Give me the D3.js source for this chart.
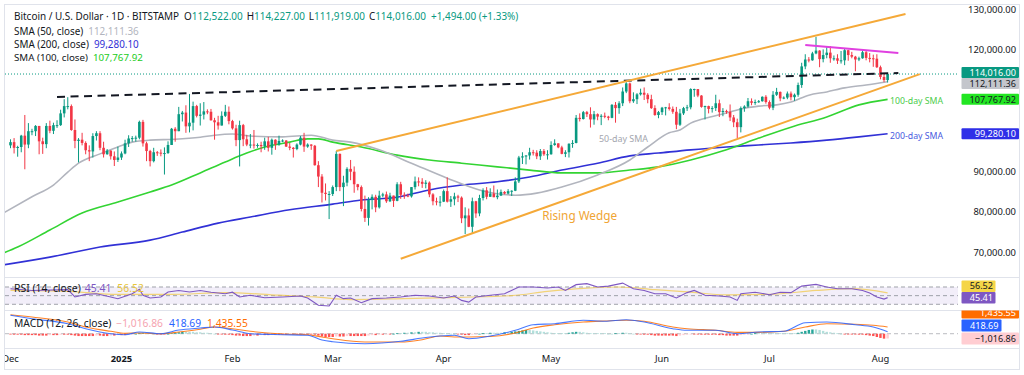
<!DOCTYPE html>
<html><head><meta charset="utf-8">
<script src="https://cdn.jsdelivr.net/npm/d3@7"></script>
<style>
html,body{margin:0;padding:0;background:#fff;overflow:hidden;}
svg{display:block;}
</style></head><body>
<svg id="chart" width="1024" height="375"></svg>
<script>
// ---------------- DATA (prices in thousands of USD, one candle per day from 2024-12-01) ----------------
const startDay = "2024-12-01";
const open = [
96.4,97.2,95.8,96.0,98.8,96.6,99.9,99.9,101.2,97.4,96.7,101.2,100.0,101.4,101.4,104.3,106.1,106.1,100.2,97.5,97.8,97.0,95.2,94.9,98.7,99.4,95.8,94.2,95.1,93.7,92.8,
93.4,94.4,96.9,98.1,98.2,98.3,102.2,96.9,95.0,92.5,94.7,94.6,94.5,94.5,96.5,100.5,99.9,104.1,104.5,101.1,102.0,106.1,103.7,104.0,104.8,104.7,102.6,102.1,101.3,103.7,104.7,
102.4,100.6,97.7,101.4,97.9,96.6,96.6,96.5,96.5,96.2,97.4,95.8,97.8,96.6,97.5,97.6,96.1,95.8,95.5,96.6,98.3,96.1,96.6,96.3,91.5,88.7,84.7,84.4,
84.4,86.1,94.3,86.1,87.2,90.6,89.9,86.8,86.1,80.7,78.5,82.9,83.7,81.1,84.0,84.3,82.6,84.0,82.7,86.8,84.2,84.0,83.8,86.1,87.5,87.4,86.9,87.2,84.3,82.6,82.4,
82.5,85.1,82.5,83.1,83.8,83.5,78.4,79.1,76.3,82.6,79.6,83.4,85.3,83.7,84.5,83.6,84.0,84.9,84.5,85.1,85.2,87.5,93.4,93.7,93.9,94.7,94.6,93.7,95.0,94.2,
94.2,96.5,96.9,95.9,94.3,94.7,96.8,97.0,103.2,102.9,104.6,104.1,102.8,104.1,103.5,103.7,103.5,103.2,106.4,105.6,106.8,109.7,111.7,107.3,107.8,109.0,109.4,108.9,107.8,105.6,103.9,
104.6,105.7,105.8,105.4,104.7,101.5,104.3,105.6,105.8,110.3,110.3,108.7,105.9,106.1,105.4,105.6,106.8,104.6,104.9,104.7,103.3,102.1,100.9,105.6,106.0,107.3,106.9,107.1,107.3,108.4,
107.1,105.7,108.9,109.6,108.0,108.2,109.2,108.3,108.9,111.3,115.9,117.6,117.4,119.1,119.8,117.7,118.7,119.3,117.9,117.9,117.3,117.4,119.9,118.7,118.3,117.6,117.9,119.4,118.0,117.9,117.8,
115.7,113.3,112.522];
const high = [
97.9,98.2,96.3,99.0,103.9,101.9,100.5,101.4,101.2,98.3,101.9,102.5,102.0,102.6,105.2,107.8,108.3,106.5,102.8,98.2,99.5,97.4,96.4,99.4,99.9,99.9,97.3,95.5,95.2,94.9,96.1,
94.9,97.8,98.9,98.7,98.8,102.5,102.7,97.3,95.3,95.8,95.0,95.4,95.9,97.4,100.7,100.9,105.9,104.9,106.3,109.1,107.2,106.4,106.8,107.1,105.3,105.4,103.2,103.7,104.8,106.4,106.0,
102.7,101.5,102.5,101.7,99.0,99.2,100.2,96.9,97.3,98.3,98.5,98.1,97.9,98.8,97.9,97.7,97.0,96.0,96.9,98.7,99.5,96.9,96.7,96.5,92.5,89.3,87.0,85.1,
86.5,95.0,94.4,88.9,91.0,92.8,91.2,86.9,86.5,84.0,83.6,84.3,84.2,85.2,84.7,85.0,84.7,84.0,87.3,87.4,84.8,84.5,86.1,88.7,88.5,88.3,87.8,87.5,84.6,83.5,83.9,
85.5,88.5,83.9,84.7,84.2,83.8,81.1,80.8,83.5,82.7,84.2,85.8,86.1,85.8,86.5,85.5,85.5,85.1,85.6,85.3,88.5,93.8,94.7,94.0,95.8,95.3,95.2,95.5,95.5,95.2,
97.4,97.9,96.9,96.3,95.2,96.9,97.7,103.9,104.3,104.9,104.9,105.8,104.9,104.3,104.1,104.5,103.7,106.6,107.1,107.3,110.7,112.0,111.9,109.5,109.3,110.4,110.7,109.3,108.9,106.3,104.9,
105.9,105.9,106.8,106.0,105.9,105.4,105.9,106.4,110.5,110.4,110.3,108.8,106.2,106.2,106.1,108.9,107.7,105.6,105.2,106.5,103.9,103.0,106.0,106.3,108.1,108.0,107.7,107.6,108.5,108.8,
107.5,109.8,110.6,109.7,108.5,109.7,109.7,109.2,111.9,116.8,118.9,118.2,119.5,123.2,119.9,120.1,120.9,120.9,118.6,118.9,119.7,120.2,120.0,119.5,118.5,118.3,119.8,119.8,119.2,118.8,118.9,
116.1,114.0,114.227];
const low = [
95.7,94.4,93.6,94.7,90.5,95.7,98.9,98.7,94.2,94.3,95.7,99.4,99.2,100.7,101.2,103.3,105.3,100.0,95.7,92.2,96.4,94.2,92.5,93.4,97.6,95.2,93.4,94.1,92.9,91.3,92.3,
92.8,94.2,96.0,97.3,97.3,97.9,96.1,92.5,91.2,92.2,93.8,93.7,89.2,94.3,96.5,97.3,99.9,102.3,99.5,99.6,100.1,103.3,101.3,102.8,104.1,102.5,97.8,100.3,101.3,103.4,101.6,
100.3,96.2,91.2,96.2,96.2,95.7,95.6,95.8,94.7,95.3,94.9,94.1,95.3,96.3,97.2,96.0,95.2,93.4,95.2,96.4,94.8,95.8,95.3,91.4,86.1,82.3,82.8,78.2,
83.9,85.1,85.1,81.4,86.3,87.8,84.7,85.3,80.1,77.5,76.6,80.6,79.9,80.8,83.6,82.2,82.4,81.2,82.6,83.2,83.2,83.6,83.5,85.5,86.3,85.9,85.8,83.6,81.6,81.6,81.3,
82.4,82.3,81.2,81.6,82.4,77.2,74.5,76.2,74.6,78.5,78.9,82.8,83.1,83.7,83.6,83.1,83.9,84.3,84.3,83.9,85.1,87.1,91.8,91.7,92.9,93.9,93.0,92.8,93.8,92.9,
94.1,96.3,95.7,94.2,93.5,93.4,95.8,96.9,102.3,102.8,103.4,100.8,101.5,102.6,101.4,103.1,102.6,103.1,102.0,104.2,106.1,109.3,106.8,106.9,106.6,108.7,107.6,106.8,105.4,103.7,103.1,
103.9,103.8,105.0,104.2,100.4,101.2,103.9,104.9,105.3,108.4,108.3,105.7,102.8,104.3,104.5,104.9,103.4,103.6,104.2,102.4,100.9,98.2,99.6,104.7,105.7,106.3,106.4,106.9,107.2,106.7,
105.3,105.1,108.6,107.3,107.8,107.8,107.5,107.4,108.4,110.6,115.2,116.9,117.3,118.9,115.7,116.9,117.9,116.8,117.3,116.5,116.6,116.2,117.3,117.9,114.7,117.2,117.8,117.4,116.9,115.8,115.5,
112.7,112.0,111.919];
const close = [
97.2,95.8,96.0,98.8,96.6,99.9,99.9,101.2,97.4,96.7,101.2,100.0,101.4,101.4,104.3,106.1,106.1,100.2,97.5,97.8,97.0,95.2,94.9,98.7,99.4,95.8,94.2,95.1,93.7,92.8,93.4,
94.4,96.9,98.1,98.2,98.3,102.2,96.9,95.0,92.5,94.7,94.6,94.5,94.5,96.5,100.5,99.9,104.1,104.5,101.1,102.0,106.1,103.7,104.0,104.8,104.7,102.6,102.1,101.3,103.7,104.7,102.4,
100.6,97.7,101.4,97.9,96.6,96.6,96.5,96.5,96.2,97.4,95.8,97.8,96.6,97.5,97.6,96.1,95.8,95.5,96.6,98.3,96.1,96.6,96.3,91.5,88.7,84.7,84.4,84.4,
86.1,94.3,86.1,87.2,90.6,89.9,86.8,86.1,80.7,78.5,82.9,83.7,81.1,84.0,84.3,82.6,84.0,82.7,86.8,84.2,84.0,83.8,86.1,87.5,87.4,86.9,87.2,84.3,82.6,82.4,82.5,
85.1,82.5,83.1,83.8,83.5,78.4,79.1,76.3,82.6,79.6,83.4,85.3,83.7,84.5,83.6,84.0,84.9,84.5,85.1,85.2,87.5,93.4,93.7,93.9,94.7,94.6,93.7,95.0,94.2,94.2,
96.5,96.9,95.9,94.3,94.7,96.8,97.0,103.2,102.9,104.6,104.1,102.8,104.1,103.5,103.7,103.5,103.2,106.4,105.6,106.8,109.7,111.7,107.3,107.8,109.0,109.4,108.9,107.8,105.6,103.9,104.6,
105.7,105.8,105.4,104.7,101.5,104.3,105.6,105.8,110.3,110.3,108.7,105.9,106.1,105.4,105.6,106.8,104.6,104.9,104.7,103.3,102.1,100.9,105.6,106.0,107.3,106.9,107.1,107.3,108.4,107.1,
105.7,108.9,109.6,108.0,108.2,109.2,108.3,108.9,111.3,115.9,117.6,117.4,119.1,119.8,117.7,118.7,119.3,117.9,117.9,117.3,117.4,119.9,118.7,118.3,117.6,117.9,119.4,118.0,117.9,117.8,115.7,
113.3,112.522,114.016];

// Moving averages (day = days since 2024-12-01, value in thousands)
const sma50Day = [-2,6,12,16,19,25,30,34,39,46,53,57,62,67,76,84,90,95,103,112,122,131,141,147,154,164,173,178,184,187,190,194,200,204,209,214,218,223,228,233,239,245];
const sma50Val = [79.7,83.7,86.6,89.8,92.0,94.3,96.0,97.2,97.7,97.9,98.4,98.9,99.2,98.7,98.5,98.9,97.7,97.2,95.3,92.0,88.3,85.4,84.1,84.6,86.1,89.1,92.8,96.0,99.5,100.2,101.9,103.1,104.4,105.4,106.1,106.4,107.1,108.8,109.6,110.6,111.3,112.11136];
const sma100Day = [-2,2,11,20,30,39,45,53,60,66,71,78,83,86,90,98,108,117,126,136,145,154,164,173,181,190,200,209,218,228,237,245];
const sma100Val = [69.8,71.3,75.5,79.7,82.4,84.9,86.6,89.6,92.3,94.5,96.0,97.2,98.0,98.0,97.2,96.0,94.0,92.8,92.0,91.1,90.3,89.6,89.6,90.3,91.1,92.8,95.3,98.2,100.9,103.4,106.4,107.76792];
const sma200Day = [-2,11,25,39,48,58,67,78,90,98,108,117,126,136,145,154,164,173,181,190,200,209,218,228,237,245];
const sma200Val = [66.9,68.8,71.3,73.0,75.0,77.2,78.7,80.5,81.9,82.9,83.6,85.4,86.6,87.4,88.6,90.3,92.0,93.8,94.5,95.3,96.0,96.5,97.0,97.7,98.5,99.2801];

// RSI (14) and its moving average
const rsiDay = [0,6,16,18,21,24,28,30,34,36,37,39,42,44,47,50,53,56,60,62,64,67,71,76,81,83,86,89,91,93,95,98,101,105,109,113,117,121,124,126,128,130,134,138,142,146,150,153,155,158,161,164,167,171,174,177,180,183,186,189,191,194,198,201,203,204,208,212,215,218,221,225,228,231,235,238,240,242,244,245];
const rsiVal = [66,62,64,47,53,54.5,47,43,54.5,64.6,51,44.6,47,58.4,62,58.4,62,58,54.5,58,47,51,45,47,49,44.6,27.7,26,51,43,44.6,33.7,43,44.6,47,51,49,44.6,49,39,35,47,51,54.5,70,70,67.7,70,62,75.4,77.7,70,72,79,66,62,54.5,54.5,44.6,57,62,51,49,47,39,54.5,58,52,58,57,72,76,70,66,66,62,56,47,42,45.41];
const rsiMaDay = [0,16,30,45,60,75,85,95,110,125,140,150,160,170,180,190,200,212,225,235,245];
const rsiMaVal = [62,60,53,53,57,51,47,41,43,46,50,60,67,70,64,58,52,53,62,66,56.52];
const rsiLevels = [70,50,30];

// MACD (12, 26, close), values in hundreds
const macdDay = [0,6,16,21,28,32,36,42,47,53,57,62,67,76,83,87,90,99,109,115,120,124,128,134,141,146,152,160,166,172,177,185,189,197,203,209,216,222,228,236,241,245];
const macdVal = [39.2,31.9,21.3,10.6,0,-2.1,3.6,0,7.9,12.1,14.3,7.9,0,-2.1,-3.4,-13.4,-17,-21.3,-16.2,-9.2,-4.9,-3.4,-10.6,-4.9,7.2,19.1,21.3,28.5,26.4,29.8,24.9,10.6,7.2,7.2,0,3.6,5.1,23.4,24.9,19.1,14.3,4.1869];
const signalVal = [40.4,35.5,24.9,14.2,5.1,0.85,1.5,0,3.6,9.4,14.3,10.6,5.1,-0.6,-2.1,-7,-10.6,-17.7,-17.7,-12.8,-4.9,-7,-7,-6,1.5,12.1,19.1,24.9,27,28.5,26.4,14.3,10.6,7.2,2.9,2.9,5.1,14.3,21.3,20.2,17.9,14.3555];
const histVal = [
-1,-2,-2,-2,-3,-3,-3,-3,-4,-4,-4,-3,-3,-3,-2,-2,-2,-3,-4,-5,-5,-5,-5,-5,-4,-4,-5,-5,-4,-4,-3,
-3,-3,-2,-1,0,1,2,2,1,0,-1,-1,-1,0,1,2,3,4,4,4,4,3,3,2,2,1,0,-1,-1,-2,-2,
-3,-4,-4,-5,-5,-5,-4,-4,-3,-3,-3,-2,-2,-2,-2,-2,-1,-1,-1,-1,-1,-1,-1,-2,-4,-6,-7,-7,
-7,-6,-6,-6,-5,-5,-5,-5,-5,-5,-4,-3,-3,-2,-2,-1,-1,0,1,1,2,2,3,3,4,4,4,3,3,2,2,
1,1,0,0,-1,-2,-3,-3,-2,-1,0,1,1,2,2,2,2,3,3,4,5,6,7,8,8,7,6,5,4,3,
2,1,1,1,1,2,3,4,4,3,2,1,1,1,1,1,0,0,1,1,2,2,1,0,-1,-1,-2,-2,-3,-4,-4,
-4,-4,-4,-4,-5,-4,-3,-2,-1,-1,-1,-2,-2,-2,-2,-2,-3,-3,-4,-4,-4,-4,-3,-2,-1,0,1,1,1,1,
1,1,1,1,1,1,1,1,2,4,6,8,9,9,8,6,4,3,2,1,0,-1,-1,-1,-1,-2,-2,-3,-4,-5,-7,
-9,-10.5,-10.1686];

// Chart drawings (anchor day since 2024-12-01, price in thousands)
const lineNames   = ["resistance","wedgeTop","wedgeBottom","topLine"];
const lineDay0    = [13, 91, 109, 222];
const linePrice0  = [108.35, 95.0, 68.4, 121.2];
const lineDay1    = [248, 250, 254, 248];
const linePrice1  = [114.27, 128.84, 114.0, 119.2];
const noteText  = ["Rising Wedge","50-day SMA","100-day SMA","200-day SMA"];
const noteDay   = [148.5, 164.4, 245.7, 245.7];
const notePrice = [79.0, 98.0, 107.4, 98.7];

// Axes
const priceTicks = [70,80,90,100,110,120,130];
const monthLabels = ["Dec","2025","Feb","Mar","Apr","May","Jun","Jul","Aug"];
const monthStarts = ["2024-12-01","2025-01-01","2025-02-01","2025-03-01","2025-04-01","2025-05-01","2025-06-01","2025-07-01","2025-08-01"];

// ---------------- DRAWING ----------------
const FONT = '"Noto Sans","DejaVu Sans",sans-serif';
const UP = "#089981", DOWN = "#f23645";
const C50 = "#b2b5be", C100 = "#33d433", C200 = "#3131d6", ORANGE = "#f5a938";
const svg = d3.select("#chart").attr("font-family", FONT);
const t0 = Date.parse(startDay + "T00:00:00Z");
const dayDate = d => new Date(t0 + d * 86400000);
const N = close.length;

const x = d3.scaleUtc().domain([dayDate(0), dayDate(N - 1)]).range([10.5, 10.5 + (N - 1) * 3.58]);
const xd = d => x(dayDate(d));
const yP = d3.scaleLinear().domain([63.9, 131.06]).range([277, 5]);
const yR = d3.scaleLinear().domain([16.8, 93.1]).range([310, 277]);
const yM = d3.scaleLinear().domain([-30.4, 48.3]).range([348, 311]);

const PL = 5, PR = 958, FR = 1019, AX = 1016;

const defs = svg.append("defs");
function clip(id, x0, y0, x1, y1) {
  defs.append("clipPath").attr("id", id).append("rect")
    .attr("x", x0).attr("y", y0).attr("width", x1 - x0).attr("height", y1 - y0);
}
clip("cP", PL, 5, PR, 277); clip("cPA", PL, 5, FR, 277);
clip("cR", PL, 277, PR, 310); clip("cRA", PL, 277.5, FR, 310);
clip("cM", PL, 310, PR, 348); clip("cMA", PL, 310.5, FR, 348);
clip("cX", PL, 348, FR, 369);

svg.append("rect").attr("width", 1024).attr("height", 375).attr("fill", "#fff");
svg.append("rect").attr("x", 4.5).attr("y", 4.5).attr("width", 1015).attr("height", 365)
  .attr("fill", "#fff").attr("stroke", "#e0e3eb");
[277, 310, 348].forEach(v => svg.append("line").attr("x1", 5).attr("x2", FR)
  .attr("y1", v + 0.5).attr("y2", v + 0.5).attr("stroke", "#e0e3eb"));

// ---- price pane
const gP = svg.append("g").attr("clip-path", "url(#cP)");
gP.append("line").attr("x1", PL).attr("x2", PR)
  .attr("y1", yP(close[N - 1])).attr("y2", yP(close[N - 1]))
  .attr("stroke", UP).attr("stroke-dasharray", "1,2").attr("stroke-width", 1);

const smaLine = d3.line().x(d => xd(d[0])).y(d => yP(d[1])).curve(d3.curveMonotoneX);
[[sma200Day, sma200Val, C200], [sma100Day, sma100Val, C100], [sma50Day, sma50Val, C50]].forEach(([ds, vs, c]) => {
  gP.append("path").datum(ds.map((d, i) => [d, vs[i]])).attr("d", smaLine)
    .attr("fill", "none").attr("stroke", c).attr("stroke-width", 1.6);
});

const idx = d3.range(N);
const col = i => close[i] >= open[i] ? UP : DOWN;
gP.append("g").selectAll("line").data(idx).join("line")
  .attr("x1", i => xd(i)).attr("x2", i => xd(i))
  .attr("y1", i => yP(high[i])).attr("y2", i => yP(low[i]))
  .attr("stroke", col).attr("stroke-width", 1);
gP.append("g").selectAll("rect").data(idx).join("rect")
  .attr("x", i => xd(i) - 1.3).attr("width", 2.6)
  .attr("y", i => yP(Math.max(open[i], close[i])))
  .attr("height", i => Math.max(1, Math.abs(yP(open[i]) - yP(close[i]))))
  .attr("fill", col);

// drawings
const lineStyle = {
  resistance: {c: "#131722", w: 2, dash: "8,5.5"},
  wedgeTop: {c: ORANGE, w: 2, dash: null},
  wedgeBottom: {c: ORANGE, w: 2, dash: null},
  topLine: {c: "#e040e0", w: 2, dash: null}
};
const gDraw = svg.append("g").attr("clip-path", "url(#cP)");
lineNames.forEach((n, i) => {
  const s = lineStyle[n];
  gDraw.append("line")
    .attr("x1", xd(lineDay0[i])).attr("y1", yP(linePrice0[i]))
    .attr("x2", xd(lineDay1[i])).attr("y2", yP(linePrice1[i]))
    .attr("stroke", s.c).attr("stroke-width", s.w)
    .attr("stroke-dasharray", s.dash);
});
const noteStyle = [
  {c: "#f0a534", fs: 12.5, w: 75},
  {c: "#a3a6ae", fs: 10, w: 49},
  {c: "#4ccc4c", fs: 10, w: 53},
  {c: "#4a5be0", fs: 10, w: 53}
];
function fitW(sel, target) {
  const w = sel.node().getComputedTextLength();
  const fs = parseFloat(sel.attr("font-size"));
  if (w > 0) sel.attr("font-size", (fs * target / w).toFixed(2));
  return sel;
}
noteText.forEach((t, i) => {
  const s = noteStyle[i];
  const tx = svg.append("text").attr("x", xd(noteDay[i])).attr("y", yP(notePrice[i]))
    .attr("dy", "0.35em").attr("fill", s.c).attr("font-size", s.fs).text(t);
  fitW(tx, s.w);
});

// ---- right price axis labels (current values)
const fmt = d3.format(",.2f");
const last = a => a[a.length - 1];
function clusterStack(items, h) {
  let cl = items.slice().sort((a, b) => a.y0 - b.y0).map(d => ({m: [d]}));
  const place = c => { c.top = d3.mean(c.m, d => d.y0) - c.m.length * h / 2; };
  cl.forEach(place);
  let merged = true;
  while (merged) {
    merged = false;
    for (let i = 0; i < cl.length - 1; i++) {
      if (cl[i].top + cl[i].m.length * h > cl[i + 1].top) {
        cl[i].m = cl[i].m.concat(cl[i + 1].m); place(cl[i]); cl.splice(i + 1, 1); merged = true; break;
      }
    }
  }
  cl.forEach(c => c.m.forEach((d, k) => { d.y = c.top + h * k + h / 2; }));
}
function greedyStack(items, h) {
  const placed = [];
  items.forEach(d => {
    d.y = d.y0;
    const dir = placed.length && d.y0 < placed[0].y0 ? -1 : 1;
    let moved = true, guard = 0;
    while (moved && guard++ < 10) {
      moved = false;
      placed.forEach(p => { if (Math.abs(d.y - p.y) < h - 0.01) { d.y = p.y + dir * h; moved = true; } });
    }
    placed.push(d);
  });
}
const LH = 11;
const priceLabels = [
  {y0: yP(close[N - 1]), t: fmt(close[N - 1] * 1000), bg: UP, fg: "#fff"},
  {y0: yP(last(sma50Val)), t: fmt(last(sma50Val) * 1000), bg: "#c4c6cc", fg: "#131722"},
  {y0: yP(last(sma100Val)), t: fmt(last(sma100Val) * 1000), bg: "#22e622", fg: "#131722"}
];
clusterStack(priceLabels, LH);
const sma200Label = {y0: yP(last(sma200Val)), t: fmt(last(sma200Val) * 1000), bg: "#2f2fe8", fg: "#fff"};
sma200Label.y = sma200Label.y0;
const allPriceLabels = priceLabels.concat([sma200Label]);

// tick labels (hidden where a value label covers them)
const gA = svg.append("g");
const visibleTicks = priceTicks.filter(t => allPriceLabels.every(l => Math.abs(yP(t) - l.y) > LH / 2 + 5));
const tickTexts = gA.selectAll("text").data(visibleTicks).join("text")
  .attr("x", AX).attr("y", d => yP(d)).attr("dy", "0.35em").attr("text-anchor", "end")
  .attr("fill", "#131722").attr("font-size", 10).text(d => fmt(d * 1000));
const axisFs = (() => { const n = tickTexts.filter(d => d === 130); fitW(n, 48); return parseFloat(n.attr("font-size")); })();
tickTexts.attr("font-size", axisFs);
const labelFs = axisFs * 0.97;

function drawLabels(items, h, clipId) {
  const g = svg.append("g").attr("clip-path", `url(#${clipId})`);
  items.forEach(d => {
    g.append("rect").attr("x", 961.5).attr("y", d.y - h / 2).attr("width", 57.5).attr("height", h)
      .attr("fill", d.bg).attr("rx", 1);
    g.append("text").attr("x", AX).attr("y", d.y).attr("dy", "0.35em").attr("text-anchor", "end")
      .attr("fill", d.fg).attr("font-size", labelFs).text(d.t);
  });
}
drawLabels(allPriceLabels, LH, "cPA");

// ---- RSI pane
const gR = svg.append("g").attr("clip-path", "url(#cR)");
gR.append("rect").attr("x", PL).attr("width", PR - PL)
  .attr("y", yR(70)).attr("height", yR(30) - yR(70)).attr("fill", "rgba(126,87,194,0.10)");
rsiLevels.forEach(l => gR.append("line").attr("x1", PL).attr("x2", PR)
  .attr("y1", yR(l)).attr("y2", yR(l)).attr("stroke", "#8a8d96").attr("stroke-opacity", 0.8)
  .attr("stroke-dasharray", "4,3"));
gR.append("path").datum(rsiMaDay.map((d, i) => [d, rsiMaVal[i]]))
  .attr("d", d3.line().x(d => xd(d[0])).y(d => yR(d[1])).curve(d3.curveMonotoneX))
  .attr("fill", "none").attr("stroke", "#f2c94c").attr("stroke-opacity", 0.75).attr("stroke-width", 1.2);
gR.append("path").datum(rsiDay.map((d, i) => [d, rsiVal[i]]))
  .attr("d", d3.line().x(d => xd(d[0])).y(d => yR(d[1])))
  .attr("fill", "none").attr("stroke", "#7e57c2").attr("stroke-width", 1.1);
const rsiLabels = [
  {y0: yR(last(rsiVal)), t: fmt(last(rsiVal)), bg: "#7e57c2", fg: "#fff"},
  {y0: yR(last(rsiMaVal)), t: fmt(last(rsiMaVal)), bg: "#f5d547", fg: "#131722"}
];
greedyStack(rsiLabels, 11.5);
const gRL = svg.append("g").attr("clip-path", "url(#cRA)");
rsiLabels.forEach(d => {
  gRL.append("rect").attr("x", 961.5).attr("y", d.y - 5.75).attr("width", 34).attr("height", 11.5).attr("fill", d.bg).attr("rx", 1);
  gRL.append("text").attr("x", 993).attr("y", d.y).attr("dy", "0.35em").attr("text-anchor", "end")
    .attr("fill", d.fg).attr("font-size", labelFs).text(d.t);
});

// ---- MACD pane
const gM = svg.append("g").attr("clip-path", "url(#cM)");
gM.append("line").attr("x1", PL).attr("x2", PR).attr("y1", yM(0)).attr("y2", yM(0))
  .attr("stroke", "#8a8d96").attr("stroke-opacity", 0.6).attr("stroke-dasharray", "4,3");
const histCol = i => {
  const v = histVal[i], p = i > 0 ? histVal[i - 1] : v;
  if (v >= 0) return p < v ? "#26a69a" : "#b2dfdb";
  return p < v ? "#ffcdd2" : "#ff5252";
};
gM.append("g").selectAll("rect").data(idx).join("rect")
  .attr("x", i => xd(i) - 1.2).attr("width", 2.4)
  .attr("y", i => Math.min(yM(0), yM(histVal[i])))
  .attr("height", i => Math.max(0.8, Math.abs(yM(histVal[i]) - yM(0))))
  .attr("fill", histCol);
const mLine = d3.line().x(d => xd(d[0])).y(d => yM(d[1])).curve(d3.curveMonotoneX);
gM.append("path").datum(macdDay.map((d, i) => [d, signalVal[i]])).attr("d", mLine)
  .attr("fill", "none").attr("stroke", "#ff6d00").attr("stroke-width", 1.1).attr("stroke-opacity", 0.85);
gM.append("path").datum(macdDay.map((d, i) => [d, macdVal[i]])).attr("d", mLine)
  .attr("fill", "none").attr("stroke", "#2962ff").attr("stroke-width", 1.1).attr("stroke-opacity", 0.85);
const fmtM = v => (v < 0 ? "\u2212" : "") + fmt(Math.abs(v) * 100);
const macdLabels = [
  {y0: yM(last(histVal)), t: fmtM(last(histVal)), bg: "#ffcdd2", fg: "#131722"},
  {y0: yM(last(macdVal)), t: fmtM(last(macdVal)), bg: "#2962ff", fg: "#fff"},
  {y0: yM(last(signalVal)), t: fmtM(last(signalVal)), bg: "#ff6d00", fg: "#fff"}
];
greedyStack(macdLabels, 13);
const gML = svg.append("g").attr("clip-path", "url(#cMA)");
macdLabels.slice().reverse().forEach(d => {
  const w = d.t.length > 7 ? 57.5 : 40;
  gML.append("rect").attr("x", 961.5).attr("y", d.y - 6).attr("width", w).attr("height", 12).attr("fill", d.bg).attr("rx", 1);
  gML.append("text").attr("x", 961.5 + w - 3).attr("y", d.y).attr("dy", "0.35em").attr("text-anchor", "end")
    .attr("fill", d.fg).attr("font-size", labelFs).text(d.t);
});

// ---- x axis
const gX = svg.append("g").attr("clip-path", "url(#cX)");
monthLabels.forEach((m, i) => {
  gX.append("text").attr("x", x(new Date(monthStarts[i] + "T00:00:00Z"))).attr("y", 359)
    .attr("dy", "0.35em").attr("text-anchor", "middle").attr("fill", "#131722")
    .attr("font-size", axisFs).attr("font-weight", m === "2025" ? 700 : 400).text(m);
});

// ---- legends
const DARK = "#131722";
function legendLine(yBase, parts, target) {
  const t = svg.append("text").attr("x", 14).attr("y", yBase).attr("font-size", 10).attr("fill", DARK);
  parts.forEach(p => t.append("tspan").attr("fill", p.c || DARK).attr("dx", p.dx || 0).text(p.t));
  fitW(t, target);
  return t;
}
const prevClose = close[N - 2], chg = close[N - 1] - prevClose;
const vc = UP;
legendLine(19.5, [
  {t: "Bitcoin / U.S. Dollar \u00b7 1D \u00b7 BITSTAMP"},
  {t: "O", dx: 5}, {t: fmt(open[N - 1] * 1000), c: vc},
  {t: "H", dx: 4}, {t: fmt(high[N - 1] * 1000), c: vc},
  {t: "L", dx: 4}, {t: fmt(low[N - 1] * 1000), c: vc},
  {t: "C", dx: 4}, {t: fmt(close[N - 1] * 1000), c: vc},
  {t: (chg >= 0 ? "+" : "\u2212") + fmt(Math.abs(chg) * 1000) + " (" + (chg >= 0 ? "+" : "\u2212") + fmt(Math.abs(chg / prevClose * 100)) + "%)", c: vc, dx: 5}
], 483);
legendLine(34.5, [{t: "SMA (50, close)"}, {t: fmt(last(sma50Val) * 1000), c: "#b2b5be", dx: 5}], 120);
legendLine(47.5, [{t: "SMA (200, close)"}, {t: fmt(last(sma200Val) * 1000), c: "#3131d6", dx: 5}], 120);
legendLine(61, [{t: "SMA (100, close)"}, {t: fmt(last(sma100Val) * 1000), c: "#22cc22", dx: 5}], 124);
legendLine(291.5, [{t: "RSI (14, close)"}, {t: fmt(last(rsiVal)), c: "#7e57c2", dx: 4}, {t: fmt(last(rsiMaVal)), c: "#e8c53a", dx: 6}], 120);
legendLine(327, [{t: "MACD (12, 26, close)"}, {t: fmtM(last(histVal)), c: "#f5a3b0", dx: 5}, {t: fmtM(last(macdVal)), c: "#2962ff", dx: 6}, {t: fmtM(last(signalVal)), c: "#ff6d00", dx: 6}], 217);
</script>
</body></html>
